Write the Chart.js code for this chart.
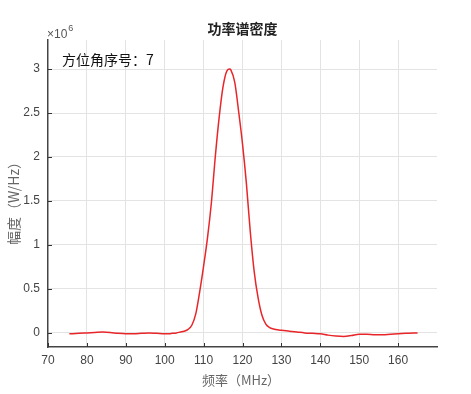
<!DOCTYPE html>
<html>
<head>
<meta charset="utf-8">
<script src="https://cdn.jsdelivr.net/npm/chart.js@4.4.0/dist/chart.umd.min.js"></script>
<style>
  html, body { margin: 0; padding: 0; background: #fff; }
  #wrap { width: 471px; height: 394px; }
</style>
</head>
<body>
<div id="wrap"><canvas id="psdChart" width="471" height="394"></canvas></div>
<script>
// frequency (MHz) and power spectral density (x 1e6 W/Hz)
const freqs = [75.5, 78, 80, 82, 84, 86, 88, 90, 92, 94, 96, 98, 100, 101, 102, 103, 104, 105, 106, 107, 108, 109, 110, 111, 112, 113, 114, 115, 116, 116.7, 117, 118, 119, 120, 121, 122, 123, 124, 125, 126, 127, 128, 129, 130, 132, 134, 136, 138, 140, 142, 144, 146, 148, 150, 152, 154, 156, 158, 160, 162, 164, 165];
const psd = [-0.01, -0.005, 0.0, 0.005, 0.01, 0.005, -0.005, -0.01, -0.01, -0.005, 0.0, -0.005, -0.01, -0.01, -0.005, 0.0, 0.01, 0.02, 0.04, 0.09, 0.22, 0.47, 0.76, 1.08, 1.48, 2.0, 2.45, 2.8, 2.98, 3.0, 2.99, 2.85, 2.52, 2.15, 1.7, 1.15, 0.7, 0.4, 0.2, 0.1, 0.06, 0.045, 0.035, 0.03, 0.02, 0.01, 0.0, -0.005, -0.01, -0.025, -0.035, -0.04, -0.03, -0.015, -0.015, -0.02, -0.02, -0.015, -0.01, -0.005, 0.0, 0.0];

const xTicks = [70, 80, 90, 100, 110, 120, 130, 140, 150, 160];
const yTicks = [0, 0.5, 1, 1.5, 2, 2.5, 3];

const titleText = "功率谱密度";
const xTitle = "频率（MHz）";
const yTitle = "幅度（W/Hz）";
const expText = "×10";
const expPow = "6";
const noteText = "方位角序号：7";

const tickFont = { family: "'Liberation Sans', Arial, sans-serif", size: 12 };

const textPlugin = {
  id: "texts",
  afterDraw(chart) {
    const ctx = chart.ctx;
    const area = chart.chartArea;
    const xs = chart.scales.x;
    const ys = chart.scales.y;
    ctx.save();

    // small inward tick marks
    ctx.strokeStyle = "#333";
    ctx.lineWidth = 1;
    xTicks.forEach(v => {
      const px = Math.round(xs.getPixelForValue(v)) + 0.5;
      ctx.beginPath();
      ctx.moveTo(px, area.bottom);
      ctx.lineTo(px, area.bottom - 4);
      ctx.stroke();
    });
    yTicks.forEach(v => {
      const py = Math.round(ys.getPixelForValue(v)) + 0.5;
      ctx.beginPath();
      ctx.moveTo(area.left, py);
      ctx.lineTo(area.left + 4, py);
      ctx.stroke();
    });

    // title
    ctx.fillStyle = "#222";
    ctx.font = "bold 14px 'Noto Sans CJK SC', sans-serif";
    ctx.textAlign = "center";
    ctx.textBaseline = "middle";
    ctx.fillText(titleText, (area.left + area.right) / 2, 29);

    // axis titles
    ctx.fillStyle = "#666";
    ctx.font = "13px 'Noto Sans CJK SC', sans-serif";
    ctx.fillText(xTitle, 241, 380);
    ctx.save();
    ctx.translate(14, 200);
    ctx.rotate(-Math.PI / 2);
    ctx.font = "14px 'Noto Sans CJK SC', sans-serif";
    ctx.fillText(yTitle, 0, 0);
    ctx.restore();

    // exponent label
    ctx.textAlign = "left";
    ctx.fillStyle = "#555";
    ctx.font = "12px 'Liberation Sans', Arial, sans-serif";
    ctx.fillText(expText, 47, 35);
    const w = ctx.measureText(expText).width;
    ctx.font = "9px 'Liberation Sans', Arial, sans-serif";
    ctx.fillText(expPow, 47 + w + 1, 29);

    // annotation
    ctx.fillStyle = "#111";
    ctx.font = "14px 'Noto Sans CJK SC', sans-serif";
    ctx.fillText(noteText, 62, 60);

    ctx.restore();
  }
};

new Chart(document.getElementById("psdChart").getContext("2d"), {
  type: "line",
  data: {
    datasets: [{
      data: freqs.map((f, i) => ({ x: f, y: psd[i] })),
      borderColor: "#e8262a",
      borderWidth: 1.5,
      pointRadius: 0,
      cubicInterpolationMode: "monotone",
      fill: false
    }]
  },
  options: {
    responsive: false,
    animation: false,
    events: [],
    layout: { padding: { top: 40, right: 34, left: 0, bottom: 0 } },
    plugins: { legend: { display: false }, tooltip: { enabled: false }, title: { display: false } },
    scales: {
      x: {
        type: "linear",
        min: 70,
        max: 170,
        afterFit: s => { s.height = 47; },
        afterBuildTicks: s => { s.ticks = xTicks.map(v => ({ value: v })); },
        ticks: {
          color: "#444",
          font: tickFont,
          padding: 6,
          maxRotation: 0
        },
        grid: {
          drawTicks: false,
          color: c => (c.tick && c.tick.value === 70 ? "rgba(0,0,0,0)" : "#e3e3e3"),
          lineWidth: 1
        },
        border: { display: true, color: "#444", width: 1.5 }
      },
      y: {
        min: -0.16,
        max: 3.33,
        afterFit: s => { s.width = 48; },
        afterBuildTicks: s => { s.ticks = yTicks.map(v => ({ value: v })); },
        ticks: {
          color: "#444",
          font: tickFont,
          padding: 8,
          callback: v => String(v)
        },
        grid: {
          drawTicks: false,
          color: "#e3e3e3",
          lineWidth: 1
        },
        border: { display: true, color: "#444", width: 1.5 }
      }
    }
  },
  plugins: [textPlugin]
});
</script>
</body>
</html>
